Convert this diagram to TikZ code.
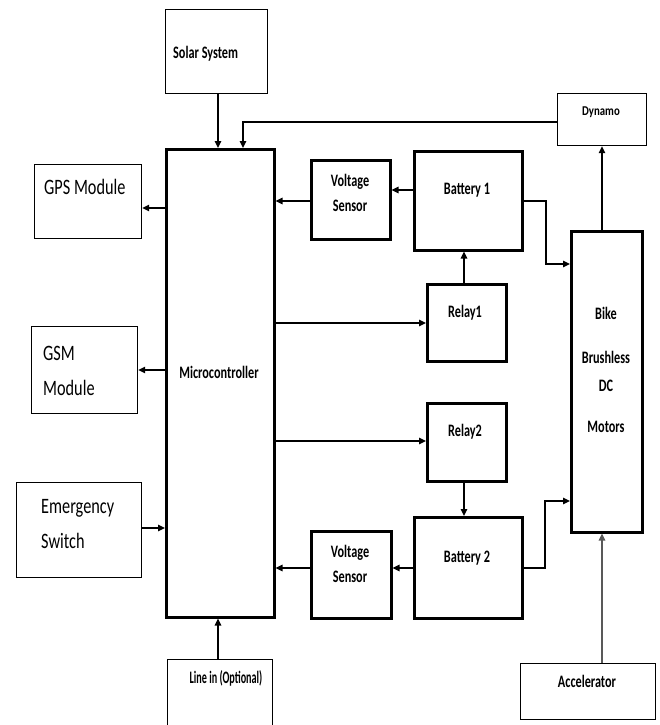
\documentclass[tikz,border=0pt]{standalone}
\usepackage{fontspec}
\setmainfont{Carlito}
\newfontfamily\smf[FakeStretch=0.70]{Carlito}
\newfontfamily\dynf[FakeStretch=0.80]{Carlito}
\newfontfamily\linf[FakeStretch=0.58]{Carlito}
\newfontfamily\bigf[FakeStretch=0.74]{Carlito}
\usetikzlibrary{arrows.meta}
\begin{document}
\begin{tikzpicture}[x=1pt,y=-1pt,
  thinbox/.style={draw=black, line width=1.2pt, inner sep=0pt, anchor=north west},
  thickbox/.style={draw=black, line width=2.6pt, inner sep=0pt, anchor=north west},
  lbl/.style={inner sep=0pt, anchor=base, font=\smf\bfseries\fontsize{17.5}{17.5}\selectfont},
  biglbl/.style={inner sep=0pt, anchor=base west, font=\bigf\fontsize{22}{22}\selectfont},
  arr/.style={line width=1.3pt, -{Triangle[length=7pt,width=6.5pt]}},
  ln/.style={line width=1.3pt}]
\useasboundingbox (0,0) rectangle (660,725);
\fill[white] (0,0) rectangle (660,725);

% boxes
\node[thinbox, minimum width=102pt, minimum height=84pt] (solar) at (165,9) {};
\node[thinbox, minimum width=89pt, minimum height=52pt] (dynamo) at (557,93) {};
\node[thickbox, minimum width=108pt, minimum height=468pt] (micro) at (165,148) {};
\node[thinbox, minimum width=107pt, minimum height=74pt] (gps) at (34,164) {};
\node[thinbox, minimum width=106pt, minimum height=87pt] (gsm) at (31,326) {};
\node[thinbox, minimum width=125pt, minimum height=95pt] (emerg) at (16,482) {};
\node[thinbox, minimum width=105pt, minimum height=80pt] (linein) at (167,659) {};
\node[thickbox, minimum width=79pt, minimum height=79pt] (vs1) at (310,159) {};
\node[thickbox, minimum width=108pt, minimum height=99pt] (bat1) at (413,150) {};
\node[thickbox, minimum width=79pt, minimum height=77pt] (relay1) at (426,283) {};
\node[thickbox, minimum width=79pt, minimum height=78pt] (relay2) at (426,402) {};
\node[thickbox, minimum width=108pt, minimum height=101pt] (bat2) at (413,516) {};
\node[thickbox, minimum width=80pt, minimum height=87pt] (vs2) at (310,530) {};
\node[thickbox, minimum width=71pt, minimum height=301pt] (motor) at (570,230) {};
\node[thinbox, minimum width=135pt, minimum height=56pt] (accel) at (520,663) {};

% labels
\node[lbl, anchor=base west] (tsolar) at (173,59) {Solar System};
\node[lbl, font=\dynf\bfseries\fontsize{13.5}{13.5}\selectfont] (tdyn) at (601,115) {Dynamo};
\node[lbl] (tmicro) at (219,378) {Microcontroller};
\node[lbl] (tvs1a) at (350,186) {Voltage};
\node[lbl] (tvs1b) at (350,211) {Sensor};
\node[lbl] (tbat1) at (467,194) {Battery 1};
\node[lbl] (trel1) at (465,317) {Relay1};
\node[lbl] (trel2) at (465,436) {Relay2};
\node[lbl] (tvs2a) at (350,557) {Voltage};
\node[lbl] (tvs2b) at (350,582) {Sensor};
\node[lbl] (tbat2) at (467,562) {Battery 2};
\node[lbl] (tm1) at (606,319) {Bike};
\node[lbl] (tm2) at (606,363) {Brushless};
\node[lbl] (tm3) at (606,391) {DC};
\node[lbl] (tm4) at (606,432) {Motors};
\node[lbl] (tacc) at (587,687) {Accelerator};
\node[lbl, font=\linf\bfseries\fontsize{17.5}{17.5}\selectfont] (tline) at (226,683) {Line in (Optional)};
\node[biglbl] (tgps) at (44,194) {GPS Module};
\node[biglbl] (tgsm1) at (43,360) {GSM};
\node[biglbl] (tgsm2) at (43,395) {Module};
\node[biglbl] (tem1) at (41,513) {Emergency};
\node[biglbl] (tem2) at (41,548) {Switch};

% helper coordinates
\coordinate (dynx) at (243,0);
\coordinate (solx) at (218,0);
\coordinate (accx) at (602,0);
\coordinate (relx) at (464,0);

% connectors
\draw[arr] (solar.south -| solx) -- (micro.north -| solx);
\draw[arr] (dynamo.west |- 0,122) -| (micro.north -| dynx);
\draw[arr] (motor.north -| accx) -- (dynamo.south -| accx);
\draw[arr] (micro.west |- 0,208) -- (gps.east |- 0,208);
\draw[arr] (micro.west |- 0,370) -- (gsm.east |- 0,370);
\draw[arr] (emerg.east |- 0,528) -- (micro.west |- 0,528);
\draw[arr] (linein.north -| solx) -- (micro.south -| solx);
\draw[arr] (vs1.west |- 0,201) -- (micro.east |- 0,201);
\draw[arr] (bat1.west |- 0,190) -- (vs1.east |- 0,190);
\draw[arr] (bat1.east |- 0,201) -- (546,201) |- (motor.west |- 0,264);
\draw[arr] (relay1.north -| relx) -- (bat1.south -| relx);
\draw[arr] (micro.east |- 0,323) -- (relay1.west |- 0,323);
\draw[arr] (micro.east |- 0,441) -- (relay2.west |- 0,441);
\draw[arr] (relay2.south -| relx) -- (bat2.north -| relx);
\draw[arr] (bat2.west |- 0,568) -- (vs2.east |- 0,568);
\draw[arr] (vs2.west |- 0,568) -- (micro.east |- 0,568);
\draw[arr] (bat2.east |- 0,568) -- (545,568) |- (motor.west |- 0,501);
\draw[arr, draw=black!65, fill=black!65] (accel.north -| accx) -- (motor.south -| accx);
\end{tikzpicture}
\end{document}
